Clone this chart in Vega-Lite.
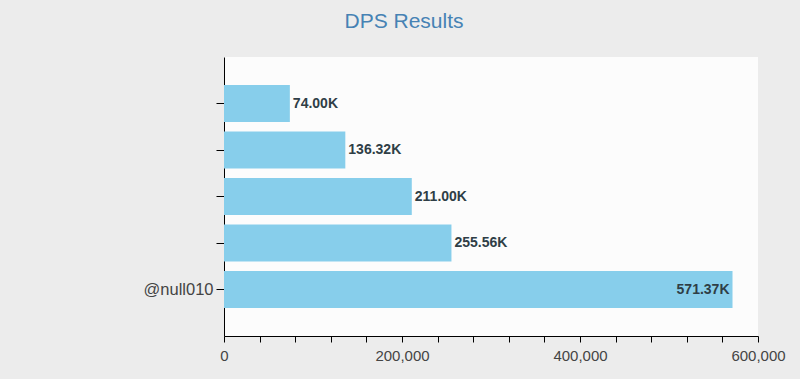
{
  "$schema": "https://vega.github.io/schema/vega-lite/v6.json",
  "autosize": {"type": "none"},
  "padding": {"left": 224, "top": 57, "right": 42, "bottom": 43},
  "width": 534,
  "height": 279,
  "background": "#ececec",
  "title": {
    "text": "DPS Results",
    "color": "#4682b4",
    "font": "Liberation Sans",
    "fontSize": 21,
    "fontWeight": "normal",
    "anchor": "middle",
    "dx": -87,
    "offset": 25
  },
  "config": {
    "view": {"fill": "#fcfcfc", "stroke": null}
  },
  "data": {
    "values": [
      {"player": "p1", "dps": 74000},
      {"player": "p2", "dps": 136320},
      {"player": "p3", "dps": 211000},
      {"player": "p4", "dps": 255560},
      {"player": "@null010", "dps": 571370}
    ]
  },
  "transform": [
    {"calculate": "format(datum.dps / 1000, '.2f') + 'K'", "as": "label"}
  ],
  "encoding": {
    "y": {
      "field": "player",
      "type": "nominal",
      "sort": null,
      "scale": {"paddingInner": 0.2, "paddingOuter": 0.6},
      "axis": {
        "title": null,
        "labelExpr": "datum.value == '@null010' ? datum.value : ''",
        "labelFont": "Liberation Sans",
        "labelFontSize": 16.5,
        "labelColor": "#444444",
        "domainColor": "#000000",
        "tickColor": "#000000",
        "tickSize": 8,
        "labelPadding": 3
      }
    },
    "x": {
      "field": "dps",
      "type": "quantitative",
      "scale": {"domain": [0, 600000]},
      "axis": {
        "title": null,
        "values": [0, 40000, 80000, 120000, 160000, 200000, 240000, 280000, 320000, 360000, 400000, 440000, 480000, 520000, 560000, 600000],
        "labelExpr": "datum.value % 200000 == 0 ? format(datum.value, ',') : ''",
        "labelFont": "Liberation Sans",
        "labelFontSize": 15,
        "labelColor": "#444444",
        "domainColor": "#000000",
        "tickColor": "#000000",
        "tickSize": 6,
        "labelPadding": 6,
        "grid": false,
        "labelFlush": false
      }
    }
  },
  "layer": [
    {"mark": {"type": "bar", "color": "#87ceeb"}},
    {
      "transform": [{"filter": "datum.dps < 500000"}],
      "mark": {"type": "text", "align": "left", "dx": 3, "font": "Liberation Sans", "fontSize": 14, "fontWeight": "bold", "color": "#2f3e46"},
      "encoding": {"text": {"field": "label"}}
    },
    {
      "transform": [{"filter": "datum.dps >= 500000"}],
      "mark": {"type": "text", "align": "right", "dx": -3, "font": "Liberation Sans", "fontSize": 14, "fontWeight": "bold", "color": "#2f3e46"},
      "encoding": {"text": {"field": "label"}}
    }
  ]
}
